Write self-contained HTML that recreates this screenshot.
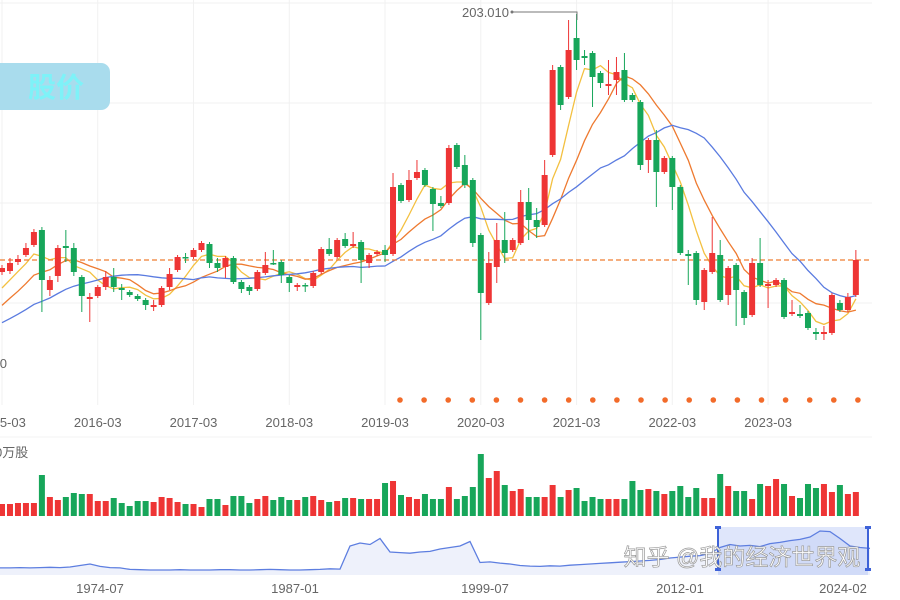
<!DOCTYPE html>
<html><head><meta charset="utf-8"><style>
html,body{margin:0;padding:0;background:#fff;width:900px;height:600px;overflow:hidden}
svg{display:block}
text{font-family:"Liberation Sans","Noto Sans CJK SC",sans-serif}
</style></head><body>
<svg id="chart" width="900" height="600" viewBox="0 0 900 600">
<g id="grid"></g>
<g id="ma"></g>
<g id="candles"></g>
<g id="axis"></g>
<g id="vol"></g>
<g id="nav"></g>
<g>
<rect x="-10" y="63" width="120" height="47" rx="9" fill="#a9dced"/>
<text x="56" y="97" text-anchor="middle" font-size="28" font-weight="bold" fill="#7ef2f8">股价</text>
</g>
<g>
<text x="509" y="17" text-anchor="end" font-size="13" fill="#666">203.010</text>
<polyline points="512,12 577,12 577,20" fill="none" stroke="#777" stroke-width="1"/>
<circle cx="512" cy="12" r="1.5" fill="#777"/>
</g>
<text x="7" y="368" text-anchor="end" font-size="13" fill="#666">50</text>
<text x="-5" y="457" font-size="13" fill="#666">0万股</text>
<text x="742" y="565" text-anchor="middle" font-size="23" fill="#fff" stroke="#9a9a9a" stroke-width="0.7">知乎 @我的经济世界观</text>
</svg>
<script>
// ---- data ----
const preCloses=[38,36,40,42,39,37,41,44,43,40,42,46,48,52,55,58,60,66,70];
const opens=[74,74.5,79,82.5,87.5,95,65,72,87,86,71.5,60.5,62,66.5,71.5,66,64,62,60,56.5,57.5,66.5,75,81.5,81.5,85,88,78.5,76.5,81,69,66.5,65.5,73.5,78.5,79,71.5,66.5,67.5,67,74,85.5,81.5,90.5,87,89,78.5,83,85,83,117.5,110,121,125,115.5,108.5,108.5,137.5,127.5,120,92.5,58.5,76.5,90,85,88.5,109,100,97.5,132.5,176.5,161.5,191,182,183.5,173.5,167,170,175,162.5,159,130,140,124,131,116.5,83,83.5,59,74,82.5,62.5,77.5,64,52.5,78.5,67,67.5,70,53,53,53.5,44,43,43.5,58.5,55,62.5];
const closes=[76,78.5,80.5,86,94,70,70,86,86,74,62,61.5,66.5,71.5,66.5,65,62.5,60.5,57.5,57.5,66,73,81.5,81,85,88.5,78.5,76,81,69,65.5,64.5,74,77.5,78,72.5,68.5,67.5,67,73.5,85.5,83,90,87,88,80,82.5,84,82.5,116.5,109.5,120,124,117.5,108,107,136,126.5,117.5,88.5,63.5,78.5,90,83.5,90,109,100,96.5,122.5,175,157.5,185,180,181,171.5,168.5,168,174,160,160,127.5,140,124,131,116.5,83.5,82,60,75,83.5,60,76,65,51,78.5,67.5,68,70,51.5,54,52,46,43,44,62.5,55,61.5,80];
const highs=[77.5,81,82.5,88.5,95.5,96.5,72,87.5,95,88.5,72.5,63.5,67.5,74.5,76,68,65,63,61,60,67,76,82.5,83.5,86,89.5,89,81,82,82,70,67.5,75,84,85,80,72.5,68.5,68.5,74.5,86.5,91,91,93.5,94,90,83.5,85,87.5,123.5,118.5,125,130,126,116.5,112,137.5,138.5,132.5,121,93.5,84,98.5,104,91,115,116,106,130,177.5,177.5,200,203.01,185,184.5,174.5,180,181.5,183.5,163.5,160,141,145,132,132,117.5,85,84.5,76,101.5,90,77,78.5,65,81,91,70,71,71,60,57.5,54.5,46,47,63.5,60,63.5,85];
const lows=[72.5,73,77.5,81.5,86.5,54,62,69,79,72,54,49,61,65,64,60,61.5,59.5,55,54.5,56.5,65,74,78.5,80.5,84,76,74,71,68,63.5,62.5,64.5,72.5,77.5,68.5,64,64.5,64,66,73,82,80.5,86,86,68.5,76,82,79,82,108.5,109,120,116.5,94.5,106,107.5,125.5,116,86.5,40,57.5,68.5,78.5,84,87.5,90,91,96.5,131.5,155,160.5,175,177.5,156.5,166,162.5,162.5,159,159,125,123.5,106.5,123,105,82.5,67.5,57.5,55,73,59,57.5,47,47.5,51.5,66.5,56,66.5,50.5,52,51,45,40,40,42.5,54,54,61.5];
const volumes=[1200,1200,1300,1300,1300,4100,1900,1600,1900,2300,2200,2200,1500,1500,1800,1300,1000,1500,1500,1400,1900,1800,1400,1200,1200,900,1700,1700,1100,2000,2000,1300,1700,2000,1600,1900,1600,1600,1900,2000,1600,1400,1500,1800,1800,1700,1700,1700,3300,3500,2100,1900,1700,2200,1700,1700,2900,1700,2000,2900,6200,3800,4500,3100,2500,2700,1900,1900,1900,3100,1900,2600,2800,1500,1900,1700,1700,1700,1700,3500,2600,2700,2500,2200,2500,3000,1900,2800,1800,1800,4200,3000,2500,2500,1700,3200,3000,3700,3200,2000,1800,3200,2800,3200,2400,3100,2200,2400];
const xLabels=["2015-03","2016-03","2017-03","2018-03","2019-03","2020-03","2021-03","2022-03","2023-03"];
const navVals=[27,27,28,27,28,29,28,30,35,40,32,28,27,22,21,20,20,20,21,20,20,20,21,21,20,20,21,22,21,20,20,21,22,24,23,100,110,105,125,80,78,76,80,82,90,95,100,115,45,47,43,40,35,33,32,34,33,36,38,40,42,44,46,48,50,52,55,60,63,66,68,75,95,105,100,102,98,108,112,118,122,130,150,148,125,100,95,92];
const navLabels=["1974-07","1987-01","1999-07","2012-01","2024-02"];
const lastPrice=80;

// ---- scales ----
const NS='http://www.w3.org/2000/svg';
const xOf=i=>2+i*7.98;
const yOf=p=>420-2*p;
const vOf=v=>516-v/100;
const nxOf=i=>i*10;
const nyOf=v=>576-v*0.3;
function mk(tag,attrs,parent){const e=document.createElementNS(NS,tag);for(const k in attrs)e.setAttribute(k,attrs[k]);parent.appendChild(e);return e;}
const grid=document.getElementById('grid'),cg=document.getElementById('candles'),mg=document.getElementById('ma'),ag=document.getElementById('axis'),vg=document.getElementById('vol'),ng=document.getElementById('nav');
const RED='#ee3535',GREEN='#17a65a';

// grid
[3,103,203,303].forEach(y=>{const l=mk('line',{x1:0,x2:872,y1:y,y2:y,stroke:'#f1f1f1'},grid);

});
xLabels.forEach((t,k)=>{const x=xOf(k*12);
const l=mk('line',{x1:x,x2:x,y1:0,y2:405,stroke:'#f1f1f1'},grid);


const tx=mk('text',{x:x,y:427,'text-anchor':'middle','font-size':13,fill:'#666'},ag);tx.textContent=t;

});
mk('line',{x1:0,x2:872,y1:437,y2:437,stroke:'#f3f3f3'},grid);

// last price dashed line
const dl=mk('line',{x1:0,x2:870,y1:yOf(lastPrice),y2:yOf(lastPrice),stroke:'#ef7d31','stroke-dasharray':'5,3','stroke-width':1.2},cg);



// moving averages
const all=preCloses.concat(closes);
[[5,'#f3c040'],[10,'#ee7a30'],[20,'#5a7be0']].forEach(([n,c])=>{
 const pts=[];for(let i=0;i<closes.length;i++){const j=i+preCloses.length;let s=0;for(let k=j-n+1;k<=j;k++)s+=all[k];pts.push(xOf(i).toFixed(1)+','+yOf(s/n).toFixed(1));}
 const pl=mk('polyline',{points:pts.join(' '),fill:'none',stroke:c,'stroke-width':1.3},mg);
 
 });

// candles
for(let i=0;i<opens.length;i++){
 const up=closes[i]>=opens[i],c=up?RED:GREEN,x=xOf(i);
 const g=mk('g',{},cg);
 
 
 mk('line',{x1:x,x2:x,y1:yOf(highs[i]),y2:yOf(lows[i]),stroke:c,'stroke-width':1},g);
 const t=yOf(Math.max(opens[i],closes[i])),b=yOf(Math.min(opens[i],closes[i]));
 mk('rect',{x:x-3,y:t,width:6,height:Math.max(1.5,b-t),fill:c},g);
 const vb=mk('rect',{x:x-3,y:vOf(volumes[i]),width:6,height:516-vOf(volumes[i]),fill:c},vg);
 
 
}
// event dots
for(let k=0;k<20;k++){const d=mk('circle',{cx:400+k*24.1,cy:400,r:2.8,fill:'#f26b2a'},cg);

}

// navigator
const np=navVals.map((v,i)=>nxOf(i)+','+nyOf(v).toFixed(1));
const area=mk('polygon',{points:'0,575 '+np.join(' ')+' 870,575',fill:'#eef1fb'},ng);


const sel=mk('rect',{x:718,y:527,width:150,height:48,fill:'rgba(110,140,235,0.22)'},ng);


const nl=mk('polyline',{points:np.join(' '),fill:'none',stroke:'#5d7ee0','stroke-width':1.3},ng);


[718,868].forEach(x=>{const h=mk('g',{},ng);


mk('line',{x1:x,x2:x,y1:527,y2:570,stroke:'#3e62d8','stroke-width':2},h);
mk('rect',{x:x-3,y:526,width:6,height:3,fill:'#3e62d8'},h);
mk('rect',{x:x-3,y:568,width:6,height:3,fill:'#3e62d8'},h);});
[100,295,485,680,843].forEach((x,k)=>{const t=mk('text',{x:x,y:593,'text-anchor':'middle','font-size':13,fill:'#666'},ng);t.textContent=navLabels[k];

});
</script>
</body></html>
